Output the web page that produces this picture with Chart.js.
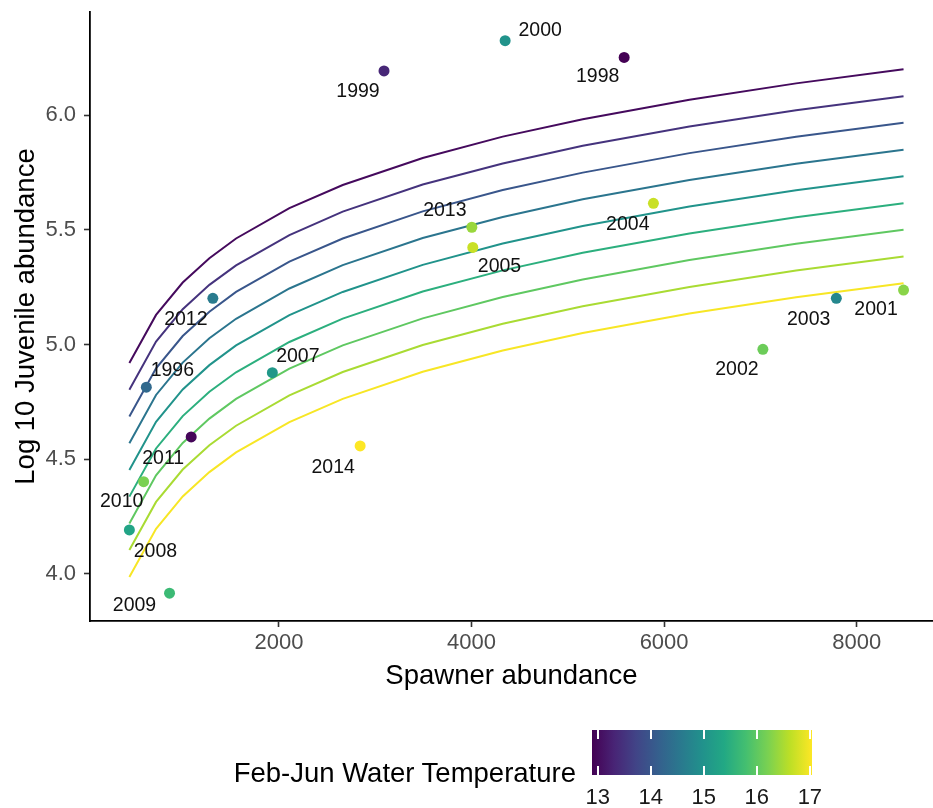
<!DOCTYPE html>
<html>
<head>
<meta charset="utf-8">
<script src="https://cdn.jsdelivr.net/npm/chart.js@4.4.1/dist/chart.umd.min.js"></script>
<style>
  html, body { margin: 0; padding: 0; background: #ffffff; }
  #wrap { position: relative; width: 933px; height: 808px; overflow: hidden; background: #fff; }
  #c { position: absolute; left: 0; top: 0; }
  #legTitle { position: absolute; right: 357px; top: 759px; font: 27.5px "Liberation Sans", Arial, Helvetica, sans-serif; line-height: 1; color: #000; white-space: nowrap; }
  #bar { position: absolute; left: 592px; top: 730px; width: 220px; height: 45px; }
  .tk { position: absolute; width: 1.5px; height: 9px; background: #ffffff; margin-left: -0.75px; }
  .tl { position: absolute; top: 786px; font: 22px "Liberation Sans", Arial, Helvetica, sans-serif; line-height: 1; color: #1a1a1a; transform: translateX(-50%); white-space: nowrap; }
</style>
</head>
<body>
<div id="wrap">
  <canvas id="c" width="933" height="808"></canvas>
  <div id="legTitle">Feb-Jun Water Temperature</div>
  <div id="bar"></div>
</div>
<script>
// ---------------- data ----------------
const years = ['1996','1998','1999','2000','2001','2002','2003','2004','2005','2007','2008','2009','2010','2011','2012','2013','2014'];
const spawners = [622, 5585, 3091, 4349, 8487, 7026, 7789, 5889, 4013, 1931, 446, 863, 594, 1088, 1313, 4003, 2843];
const juveniles = [4.814, 6.251, 6.192, 6.324, 5.237, 4.979, 5.201, 5.615, 5.423, 4.877, 4.192, 3.916, 4.402, 4.597, 5.201, 5.511, 4.558];
const temps = [14.3, 12.89, 13.35, 15.0, 16.3, 16.1, 14.8, 16.7, 16.7, 15.1, 15.3, 15.7, 16.2, 12.95, 14.6, 16.4, 17.04];

// fitted curves (one per temperature), read at these spawner values
const curveSpawners = [446, 723, 1000, 1277, 1554, 2108, 2662, 3493, 4324, 5155, 6263, 7371, 8487];
const curveTemps = [13, 13.5, 14, 14.5, 15, 15.5, 16, 16.5, 17];
const curve13   = [4.919, 5.129, 5.270, 5.376, 5.462, 5.594, 5.695, 5.813, 5.906, 5.982, 6.067, 6.138, 6.199];
const curve13_5 = [4.803, 5.013, 5.154, 5.260, 5.345, 5.477, 5.579, 5.697, 5.789, 5.866, 5.950, 6.021, 6.082];
const curve14   = [4.686, 4.896, 5.037, 5.143, 5.229, 5.361, 5.462, 5.580, 5.673, 5.749, 5.834, 5.905, 5.966];
const curve14_5 = [4.570, 4.780, 4.921, 5.027, 5.112, 5.244, 5.346, 5.464, 5.556, 5.633, 5.717, 5.788, 5.849];
const curve15   = [4.453, 4.663, 4.804, 4.910, 4.996, 5.128, 5.229, 5.347, 5.440, 5.516, 5.601, 5.672, 5.733];
const curve15_5 = [4.337, 4.547, 4.688, 4.794, 4.879, 5.011, 5.113, 5.231, 5.323, 5.400, 5.484, 5.555, 5.616];
const curve16   = [4.220, 4.430, 4.571, 4.677, 4.763, 4.895, 4.996, 5.114, 5.207, 5.283, 5.368, 5.439, 5.500];
const curve16_5 = [4.104, 4.314, 4.455, 4.561, 4.646, 4.778, 4.880, 4.998, 5.090, 5.167, 5.251, 5.322, 5.383];
const curve17   = [3.987, 4.197, 4.338, 4.444, 4.530, 4.662, 4.763, 4.881, 4.974, 5.050, 5.135, 5.206, 5.267];
const curves = [curve13, curve13_5, curve14, curve14_5, curve15, curve15_5, curve16, curve16_5, curve17];

const xTicks = [2000, 4000, 6000, 8000];
const yTicks = [4.0, 4.5, 5.0, 5.5, 6.0];
const legendTicks = [13, 14, 15, 16, 17];

// label placement offsets (pixels), in the same order as years
const labelOffsets = [[26,-17],[-26.5,19],[-26,21],[35,-10],[-27.5,20],[-26,20],[-27.7,21],[-25.6,21],[26.7,19.4],[25.5,-16.5],[26,21.7],[-35,12.7],[-22,20],[-28,21.7],[-27,21.7],[-27,-17],[-27,21.8]];

// ---------------- colour scale ----------------
const VIRIDIS = ['#440154','#482475','#414487','#355f8d','#2a788e','#21918c','#22a884','#44bf70','#7ad151','#bddf26','#fde725'];
function hex2rgb(h){ return [parseInt(h.substr(1,2),16), parseInt(h.substr(3,2),16), parseInt(h.substr(5,2),16)]; }
function viridis(t){
  t = Math.max(0, Math.min(1, t));
  const n = VIRIDIS.length - 1;
  const f = t * n;
  const i = Math.min(Math.floor(f), n - 1);
  const u = f - i;
  const a = hex2rgb(VIRIDIS[i]), b = hex2rgb(VIRIDIS[i+1]);
  const c = a.map((v,k) => Math.round(v + (b[k]-v)*u));
  return 'rgb(' + c.join(',') + ')';
}
const tMin = Math.min(...temps), tMax = Math.max(...temps);
const tempColor = v => viridis((v - tMin) / (tMax - tMin));

// ---------------- legend (colour bar) ----------------
(function(){
  const bar = document.getElementById('bar');
  bar.style.background = 'linear-gradient(to right,' + VIRIDIS.join(',') + ')';
  const wrap = document.getElementById('wrap');
  const barLeft = 592, barW = 220, barTop = 730, barH = 45;
  legendTicks.forEach(v => {
    const px = barLeft + (v - tMin) / (tMax - tMin) * barW;
    const t1 = document.createElement('div'); t1.className = 'tk';
    t1.style.left = px + 'px'; t1.style.top = barTop + 'px'; wrap.appendChild(t1);
    const t2 = document.createElement('div'); t2.className = 'tk';
    t2.style.left = px + 'px'; t2.style.top = (barTop + barH - 9) + 'px'; wrap.appendChild(t2);
    const lb = document.createElement('div'); lb.className = 'tl';
    lb.style.left = px + 'px'; lb.textContent = String(v); wrap.appendChild(lb);
  });
})();

// ---------------- chart ----------------
const FONT = '"Liberation Sans", Arial, Helvetica, sans-serif';

const pointLabels = {
  id: 'pointLabels',
  afterDatasetsDraw(chart){
    const {ctx, scales} = chart;
    ctx.save();
    ctx.font = '19.5px ' + FONT;
    ctx.fillStyle = '#111';
    ctx.textAlign = 'center';
    ctx.textBaseline = 'middle';
    years.forEach((yr, i) => {
      const px = scales.x.getPixelForValue(spawners[i]);
      const py = scales.y.getPixelForValue(juveniles[i]);
      ctx.fillText(yr, px + labelOffsets[i][0], py + labelOffsets[i][1]);
    });
    ctx.restore();
  }
};

const datasets = [{
  label: 'points',
  data: spawners.map((s, i) => ({x: s, y: juveniles[i]})),
  backgroundColor: temps.map(tempColor),
  pointRadius: 5.5,
  pointBorderWidth: 0,
  showLine: false
}];
curves.forEach((cv, j) => {
  datasets.push({
    label: 'T' + curveTemps[j],
    data: curveSpawners.map((s, i) => ({x: s, y: cv[i]})),
    borderColor: tempColor(curveTemps[j]),
    borderWidth: 2,
    pointRadius: 0,
    showLine: true,
    tension: 0,
    fill: false
  });
});

new Chart(document.getElementById('c'), {
  type: 'scatter',
  data: { datasets },
  plugins: [pointLabels],
  options: {
    responsive: false,
    animation: false,
    events: [],
    layout: { autoPadding: false, padding: { top: 12, left: 0, right: 0, bottom: 107 } },
    plugins: { legend: { display: false }, tooltip: { enabled: false } },
    scales: {
      x: {
        type: 'linear', min: 37, max: 8793,
        afterBuildTicks: s => { s.ticks = xTicks.map(v => ({value: v})); },
        afterFit: s => { s.height = 80; s.paddingLeft = 0; s.paddingRight = 0; },
        grid: { drawOnChartArea: false, drawTicks: true, tickLength: 6, tickColor: '#333', tickWidth: 1.6 },
        border: { display: true, color: '#000', width: 1.8 },
        ticks: { color: '#4d4d4d', font: { family: FONT, size: 22 }, padding: 3, maxRotation: 0, callback: v => String(v) },
        title: { display: true, text: 'Spawner abundance', color: '#000', font: { family: FONT, size: 27.5 }, padding: { top: 0, bottom: 8 } }
      },
      y: {
        type: 'linear', min: 3.795, max: 6.449,
        afterBuildTicks: s => { s.ticks = yTicks.map(v => ({value: v})); },
        afterFit: s => { s.width = 90; s.paddingTop = 0; s.paddingBottom = 0; },
        grid: { drawOnChartArea: false, drawTicks: true, tickLength: 6, tickColor: '#333', tickWidth: 1.6 },
        border: { display: true, color: '#000', width: 1.8 },
        ticks: { color: '#4d4d4d', font: { family: FONT, size: 22 }, padding: 8, callback: v => Number(v).toFixed(1) },
        title: { display: true, text: 'Log 10 Juvenile abundance', color: '#000', font: { family: FONT, size: 27.5 }, padding: { top: 10, bottom: 0 } }
      }
    }
  }
});
</script>
</body>
</html>
